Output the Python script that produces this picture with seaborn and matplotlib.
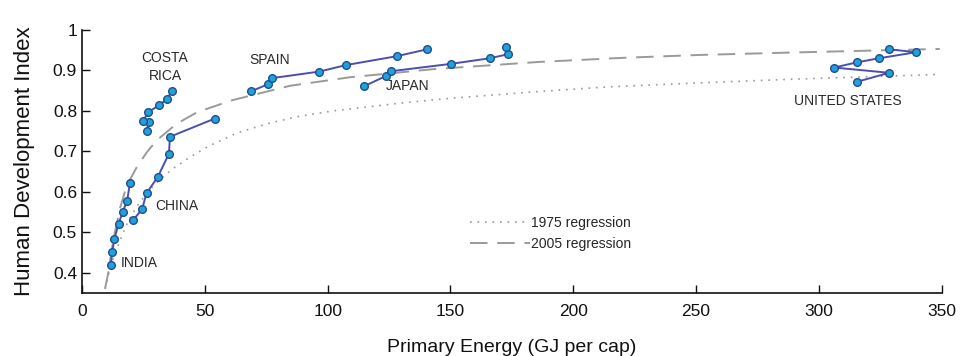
import seaborn as sns
import matplotlib.pyplot as plt
import pandas as pd

# country trajectories 1975 -> 2005 (GJ per cap, HDI)
india_x = [11.7, 12.3, 13.2, 14.9, 16.6, 18.4, 19.5]
india_y = [0.418, 0.451, 0.484, 0.521, 0.551, 0.578, 0.621]
china_x = [20.9, 24.5, 26.3, 30.8, 35.4, 35.8, 54.1]
china_y = [0.530, 0.558, 0.597, 0.636, 0.694, 0.736, 0.781]
costa_x = [26.5, 27.1, 25.0, 26.9, 31.5, 34.7, 36.5]
costa_y = [0.749, 0.773, 0.776, 0.797, 0.814, 0.830, 0.848]
spain_x = [68.7, 75.8, 77.5, 96.6, 107.4, 128.1, 140.5]
spain_y = [0.848, 0.866, 0.881, 0.897, 0.913, 0.935, 0.952]
japan_x = [114.9, 123.7, 125.9, 150.1, 166.1, 173.5, 172.8]
japan_y = [0.861, 0.886, 0.898, 0.916, 0.930, 0.940, 0.957]
us_x = [315.6, 328.6, 306.2, 315.6, 324.5, 339.7, 328.5]
us_y = [0.872, 0.894, 0.907, 0.920, 0.930, 0.945, 0.952]

# regression curves
reg1975_x = [9.4, 11, 13, 15.5, 19, 23, 29, 36.5, 44, 52, 63, 75.2, 88, 102.3,
             129.4, 149.8, 186.4, 213.6, 250.8, 288.2, 349.2]
reg1975_y = [0.36, 0.40, 0.44, 0.48, 0.53, 0.57, 0.615, 0.655, 0.686, 0.714,
             0.745, 0.768, 0.786, 0.800, 0.819, 0.831, 0.848, 0.859, 0.869,
             0.878, 0.890]
reg2005_x = [9.4, 10.7, 12.7, 15.5, 18.2, 22.2, 26.3, 30.4, 38.5, 47, 61, 84.7,
             109.1, 143, 186.4, 220.3, 250.8, 288.2, 349.2]
reg2005_y = [0.361, 0.40, 0.48, 0.56, 0.615, 0.66, 0.697, 0.727, 0.768, 0.797,
             0.826, 0.862, 0.883, 0.903, 0.921, 0.931, 0.938, 0.944, 0.953]

labels = ['COSTA\nRICA', 'SPAIN', 'JAPAN', 'CHINA', 'INDIA', 'UNITED STATES']
label_x = [33.8, 76.5, 132.7, 38.7, 23.2, 311.8]
label_y = [0.908, 0.926, 0.861, 0.566, 0.425, 0.824]

sns.set_style('ticks')
plt.rcParams['font.family'] = ['Liberation Sans', 'DejaVu Sans']

fig = plt.figure(figsize=(9.6, 3.56), dpi=100)
ax = fig.add_axes([0.0854, 0.177, 0.8956, 0.739])

sns.lineplot(x=reg1975_x, y=reg1975_y, ax=ax, color='#9a9a9a', lw=1.2,
             linestyle=(0, (1, 3.5)), sort=False, estimator=None,
             label='1975 regression')
sns.lineplot(x=reg2005_x, y=reg2005_y, ax=ax, color='#9a9a9a', lw=1.4,
             linestyle=(0, (9, 5)), sort=False, estimator=None,
             label='2005 regression')

for xs, ys in [(india_x, india_y), (china_x, china_y), (costa_x, costa_y),
               (spain_x, spain_y), (japan_x, japan_y), (us_x, us_y)]:
    df = pd.DataFrame({'x': xs, 'y': ys})
    sns.lineplot(data=df, x='x', y='y', ax=ax, sort=False, estimator=None,
                 color='#4b4fb0', lw=1.4, marker='o', markersize=5.5,
                 markerfacecolor='#22a0dc', markeredgecolor='#1d4f8c',
                 markeredgewidth=1.0, legend=False)

for t, lx, ly in zip(labels, label_x, label_y):
    ax.text(lx, ly, t, ha='center', va='center', fontsize=10, color='#2a2a2a',
            linespacing=1.35)

ax.set_xlim(0, 350)
ax.set_ylim(0.35, 1.0)
ax.set_xticks([0, 50, 100, 150, 200, 250, 300, 350])
ax.set_yticks([0.4, 0.5, 0.6, 0.7, 0.8, 0.9, 1])
ax.set_yticklabels(['0.4', '0.5', '0.6', '0.7', '0.8', '0.9', '1'])
ax.tick_params(direction='in', length=6, width=1, labelsize=12.5,
               colors='#111111')
ax.tick_params(axis='x', pad=8)
ax.set_xlabel('Primary Energy (GJ per cap)', fontsize=14, color='#111111',
              labelpad=14)
ax.set_ylabel('Human Development Index', fontsize=16, color='#111111',
              labelpad=13)
sns.despine(ax=ax)
for s in ['left', 'bottom']:
    ax.spines[s].set_linewidth(1.2)
    ax.spines[s].set_color('#111111')

ax.legend(loc='center', bbox_to_anchor=(0.545, 0.225), frameon=False,
          fontsize=10, handlelength=4.3, handletextpad=0.1, labelspacing=0.5)

fig.savefig('out.png', dpi=100)
